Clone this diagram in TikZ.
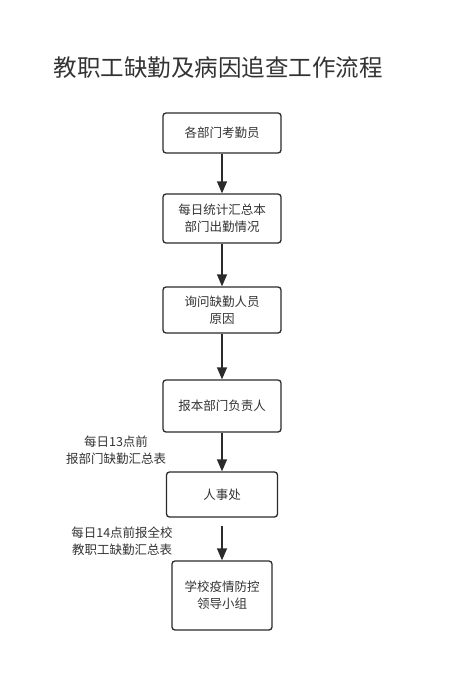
\documentclass[tikz,border=0pt]{standalone}
\usepackage{fontspec}
\usepackage{xcolor}
\usetikzlibrary{arrows.meta,positioning}
\newfontfamily\cjk{Noto Sans CJK SC}
\definecolor{Ink}{HTML}{333333}
\definecolor{Edge}{HTML}{2B2B2B}
\tikzset{
  stepbox/.style={draw=Edge, line width=1.3pt, rounded corners=3pt, fill=white,
    text=Ink, align=center, inner sep=0pt, font=\cjk\fontsize{12.5}{17}\selectfont},
  note/.style={text=Ink, align=center, inner sep=0pt, font=\cjk\fontsize{12.5}{17}\selectfont},
  flow/.style={-{Triangle[length=12pt, width=10pt]}, line width=1.3pt, draw=Edge},
}
\begin{document}
\begin{tikzpicture}[x=1pt, y=-1pt]
  \useasboundingbox (0,0) rectangle (449,693);
  \node[text=Ink, inner sep=0pt, font=\cjk\fontsize{23.5}{28}\selectfont] (title) at (218,68) {教职工缺勤及病因追查工作流程};
  \node[stepbox, minimum width=118pt, minimum height=40pt] (kq) at (222,133) {各部门考勤员};
  \node[stepbox, minimum width=118pt, minimum height=49pt] (tj) at (222,218.5) {每日统计汇总本\\部门出勤情况};
  \node[stepbox, minimum width=118pt, minimum height=46pt] (xw) at (222,310) {询问缺勤人员\\原因};
  \node[stepbox, minimum width=118pt, minimum height=52pt] (fz) at (222,406) {报本部门负责人};
  \node[stepbox, minimum width=111pt, minimum height=45pt] (rs) at (222,494.5) {人事处};
  \node[stepbox, minimum width=100pt, minimum height=69pt] (xz) at (222,595.5) {学校疫情防控\\领导小组};
  \node[note] (n13) at (116,450.5) {每日13点前\\报部门缺勤汇总表};
  \node[note] (n14) at (122,541.5) {每日14点前报全校\\教职工缺勤汇总表};
  \draw[flow] (kq) -- (tj);
  \draw[flow] (tj) -- (xw);
  \draw[flow] (xw) -- (fz);
  \draw[flow] (fz) -- (rs);
  \draw[flow, shorten <=8pt] (rs) -- (xz);
\end{tikzpicture}
\end{document}
